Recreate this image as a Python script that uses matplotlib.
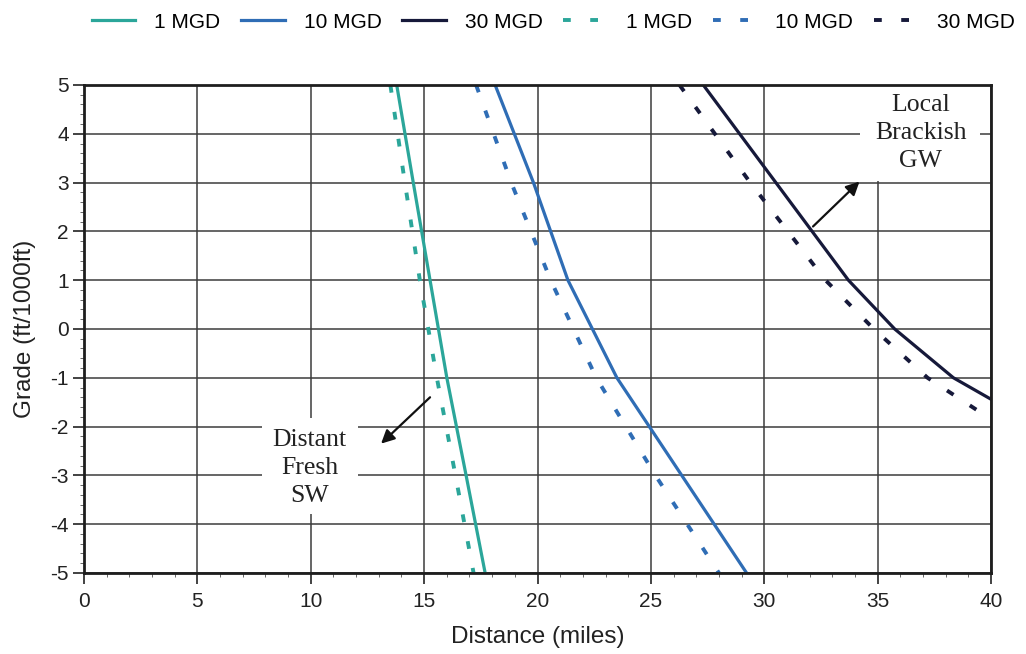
import matplotlib
matplotlib.use('Agg')
import matplotlib.pyplot as plt
from matplotlib.patches import Rectangle
from matplotlib.ticker import MultipleLocator

plt.rcParams['font.family'] = ['Liberation Sans', 'DejaVu Sans']
plt.rcParams['axes.unicode_minus'] = False

# grade (ft/1000ft) vs distance (miles) for each flow rate
grade_1mgd = [5, 3, 1, -1, -3, -5]
dist_1mgd = [13.79, 14.52, 15.26, 16.0, 16.85, 17.69]
dist_1mgd_b = [13.51, 14.15, 14.81, 15.56, 16.38, 17.18]

grade_10mgd = [5, 3, 1, -1, -3, -5]
dist_10mgd = [18.13, 19.82, 21.34, 23.5, 26.36, 29.22]
dist_10mgd_b = [17.29, 18.84, 20.58, 22.59, 25.2, 28.0]

grade_30mgd = [5, 1, 0, -1, -1.44]
dist_30mgd = [27.31, 33.71, 35.75, 38.34, 40.0]
grade_30mgd_b = [5, 3, 1, 0, -1, -1.85]
dist_30mgd_b = [26.26, 29.38, 32.7, 34.83, 37.2, 40.0]

labels = ['1 MGD', '10 MGD', '30 MGD']
colors = ['#2ba69a', '#2f6db5', '#16193a']

fig = plt.figure(figsize=(10.26, 6.54), dpi=100)
ax = fig.add_axes([0.0819, 0.1239, 0.884, 0.7462])

solid = [(grade_1mgd, dist_1mgd), (grade_10mgd, dist_10mgd), (grade_30mgd, dist_30mgd)]
dashed = [(grade_1mgd, dist_1mgd_b), (grade_10mgd, dist_10mgd_b), (grade_30mgd_b, dist_30mgd_b)]

handles = []
for (g, d), c, lab in zip(solid, colors, labels):
    h, = ax.plot(d, g, color=c, lw=2.3, label=lab, zorder=3)
    handles.append(h)
for (g, d), c, lab in zip(dashed, colors, labels):
    h, = ax.plot(d, g, color=c, lw=2.8, ls=(0, (2, 5)), dash_capstyle='butt',
                 label=lab, zorder=3)
    handles.append(h)

ax.set_xlim(0, 40)
ax.set_ylim(-5, 5)
ax.xaxis.set_major_locator(MultipleLocator(5))
ax.xaxis.set_minor_locator(MultipleLocator(1))
ax.yaxis.set_major_locator(MultipleLocator(1))
ax.yaxis.set_minor_locator(MultipleLocator(0.2))
ax.set_axisbelow(True)
ax.grid(True, which='major', color='#3c3c3c', lw=1.1)
ax.tick_params(which='major', direction='out', length=8, width=1.2,
               labelsize=15, colors='#222222')
ax.tick_params(axis='x', which='major', pad=6)
ax.tick_params(axis='y', which='major', pad=3)
ax.tick_params(which='minor', direction='out', length=3, width=0.7, colors='#666666')
for sp in ax.spines.values():
    sp.set_linewidth(2)
    sp.set_color('#1e1e1e')
    sp.set_zorder(4)

ax.set_xlabel('Distance (miles)', fontsize=17.5, color='#222222')
ax.set_ylabel('Grade (ft/1000ft)', fontsize=17.5, color='#222222')
ax.xaxis.set_label_coords(0.5, -0.108)
ax.yaxis.set_label_coords(-0.053, 0.5)

# white boxes behind the annotation text
ax.add_patch(Rectangle((7.85, -3.79), 4.23, 1.96, facecolor='white',
                       edgecolor='none', zorder=1))
ax.add_patch(Rectangle((34.2, 3.03), 5.3, 2.0, facecolor='white',
                       edgecolor='none', zorder=1))

serif = dict(family=['Liberation Serif', 'DejaVu Serif'], fontsize=18.5,
             color='#222222', ha='center', va='center', linespacing=1.35, zorder=2)
ax.text(9.95, -2.84, 'Distant\nFresh\nSW', **serif)
ax.text(36.9, 4.02, 'Local\nBrackish\nGW', **serif)

arrow = dict(arrowstyle='-|>', color='#111111', lw=1.6, mutation_scale=20,
             shrinkA=0, shrinkB=0)
ax.annotate('', xy=(13.1, -2.35), xytext=(15.26, -1.4), arrowprops=arrow, zorder=3)
ax.annotate('', xy=(34.2, 3.02), xytext=(32.15, 2.1), arrowprops=arrow, zorder=3)

fig.legend(handles=handles, labels=labels * 2, loc='center',
           bbox_to_anchor=(0.539, 0.966), ncol=6, frameon=False, fontsize=15,
           handlelength=2.1, handletextpad=0.9, columnspacing=1.0)

fig.savefig('out.png', dpi=100, facecolor='white')
